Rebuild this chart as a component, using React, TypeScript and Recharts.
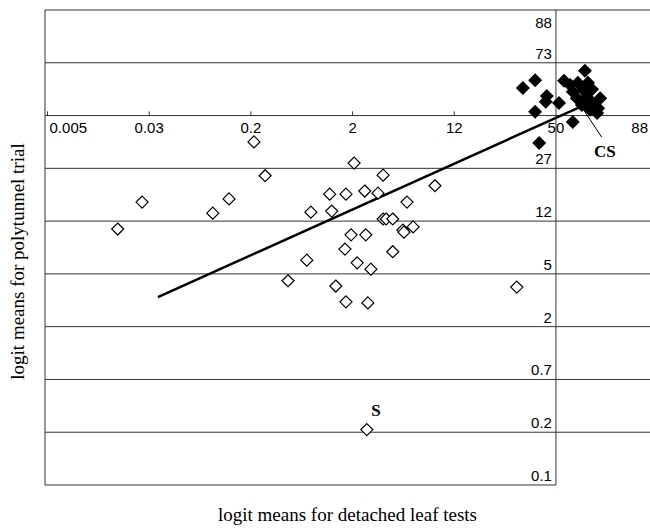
import React from "react";
import {
  ScatterChart,
  Scatter,
  XAxis,
  YAxis,
  ReferenceLine,
  ReferenceDot,
} from "recharts";

// logit scale, both axes
const X_MIN = -10.05;
const X_MAX = 1.85;
const Y_MIN = -7;
const Y_MAX = 2;

const xTickValues = [-10, -8, -6, -4, -2, 0, 2];
const xTickLabels = ["0.005", "0.03", "0.2", "2", "12", "50", "88"];

const yTickValues = [2, 1, -1, -2, -3, -4, -5, -6, -7];
const yTickLabels = ["88", "73", "27", "12", "5", "2", "0.7", "0.2", "0.1"];

const gridValues = [1, 0, -1, -2, -3, -4, -5, -6];

// open diamonds (detached leaf vs polytunnel)
const openPoints = [
  { x: -8.62, y: -2.15 },
  { x: -8.14, y: -1.64 },
  { x: -6.75, y: -1.85 },
  { x: -6.43, y: -1.58 },
  { x: -5.94, y: -0.5 },
  { x: -5.72, y: -1.14 },
  { x: -5.27, y: -3.13 },
  { x: -4.9, y: -2.74 },
  { x: -4.82, y: -1.83 },
  { x: -4.45, y: -1.49 },
  { x: -4.41, y: -1.81 },
  { x: -4.33, y: -3.23 },
  { x: -4.13, y: -1.49 },
  { x: -4.13, y: -3.53 },
  { x: -4.03, y: -2.26 },
  { x: -3.97, y: -0.9 },
  { x: -3.91, y: -2.79 },
  { x: -4.15, y: -2.53 },
  { x: -3.76, y: -1.43 },
  { x: -3.74, y: -2.26 },
  { x: -3.7, y: -3.55 },
  { x: -3.64, y: -2.91 },
  { x: -3.5, y: -1.47 },
  { x: -3.4, y: -1.13 },
  { x: -3.4, y: -1.96 },
  { x: -3.34, y: -1.96 },
  { x: -3.21, y: -1.96 },
  { x: -3.21, y: -2.58 },
  { x: -3.01, y: -2.17 },
  { x: -2.99, y: -2.21 },
  { x: -2.93, y: -1.64 },
  { x: -2.81, y: -2.11 },
  { x: -2.38, y: -1.33 },
  { x: -0.77, y: -3.25 },
];

const susceptible = [{ x: -3.72, y: -5.95 }];

// filled diamonds
const filledPoints = [
  { x: -0.65, y: 0.52 },
  { x: -0.41, y: 0.67 },
  { x: -0.18, y: 0.37 },
  { x: -0.2, y: 0.26 },
  { x: 0.06, y: 0.24 },
  { x: -0.41, y: 0.07 },
  { x: -0.33, y: -0.52 },
  { x: 0.57, y: 0.85 },
  { x: 0.16, y: 0.66 },
  { x: 0.33, y: -0.12 },
  { x: 0.81, y: 0.05 },
  { x: 0.87, y: 0.33 },
  { x: 0.28, y: 0.58 },
  { x: 0.43, y: 0.62 },
  { x: 0.63, y: 0.62 },
  { x: 0.33, y: 0.45 },
  { x: 0.53, y: 0.49 },
  { x: 0.71, y: 0.5 },
  { x: 0.41, y: 0.33 },
  { x: 0.61, y: 0.35 },
  { x: 0.71, y: 0.24 },
  { x: 0.51, y: 0.2 },
  { x: 0.83, y: 0.14 },
  { x: 0.67, y: 0.11 },
];

const trendLine = [
  { x: -7.83, y: -3.44 },
  { x: 0.47, y: 0.16 },
];

const csPointer = [
  { x: 0.51, y: 0.16 },
  { x: 0.9, y: -0.41 },
];

const SANS = "'Liberation Sans', Arial, sans-serif";
const SERIF = "'Liberation Serif', 'Times New Roman', serif";
const LINE = "#333";

function OpenDiamond(props: any) {
  const { cx, cy } = props;
  const h = 6;
  return (
    <polygon
      points={`${cx},${cy - h} ${cx + h},${cy} ${cx},${cy + h} ${cx - h},${cy}`}
      fill="#fff"
      stroke="#000"
      strokeWidth={1.2}
    />
  );
}

function FilledDiamond(props: any) {
  const { cx, cy } = props;
  const h = 7;
  return (
    <polygon
      points={`${cx},${cy - h} ${cx + h},${cy} ${cx},${cy + h} ${cx - h},${cy}`}
      fill="#000"
    />
  );
}

function TickText(props: any) {
  const { viewBox, text, anchor = "middle", dx = 0, dy = 0 } = props;
  return (
    <text
      x={viewBox.x + dx}
      y={viewBox.y + dy}
      textAnchor={anchor}
      fontFamily={SANS}
      fontSize={15}
      fill="#000"
    >
      {text}
    </text>
  );
}

function Note(props: any) {
  const { viewBox, text } = props;
  return (
    <text
      x={viewBox.x}
      y={viewBox.y}
      textAnchor="middle"
      fontFamily={SERIF}
      fontWeight="bold"
      fontSize={17}
      fill="#000"
    >
      {text}
    </text>
  );
}

function YTitle(props: any) {
  const { viewBox } = props;
  const x = viewBox.x + 17;
  const y = viewBox.y + viewBox.height / 2 + 14;
  return (
    <text
      x={x}
      y={y}
      transform={`rotate(-90, ${x}, ${y})`}
      textAnchor="middle"
      dominantBaseline="central"
      fontFamily={SERIF}
      fontSize={19}
      fill="#000"
    >
      logit means for polytunnel trial
    </text>
  );
}

export default function App() {
  return (
    <div style={{ position: "absolute", left: 0, top: 0, background: "#fff" }}>
      <ScatterChart
        width={650}
        height={529}
        margin={{ top: 10, right: 0, bottom: 0, left: 0 }}
      >
        <XAxis
          type="number"
          dataKey="x"
          domain={[X_MIN, X_MAX]}
          allowDataOverflow
          height={44}
          tick={false}
          tickLine={false}
          axisLine={false}
          label={{
            value: "logit means for detached leaf tests",
            position: "insideBottom",
            offset: 8,
            fontFamily: SERIF,
            fontSize: 19,
            fill: "#000",
          }}
        />
        <YAxis
          type="number"
          dataKey="y"
          domain={[Y_MIN, Y_MAX]}
          allowDataOverflow
          width={45}
          tick={false}
          tickLine={false}
          axisLine={false}
          label={<YTitle />}
        />

        {/* frame and grid */}
        <ReferenceLine y={Y_MAX} stroke={LINE} strokeWidth={1} />
        {gridValues.map((v) => (
          <ReferenceLine key={`g${v}`} y={v} stroke={LINE} strokeWidth={1} />
        ))}
        <ReferenceLine
          segment={[
            { x: X_MIN, y: Y_MIN },
            { x: 0, y: Y_MIN },
          ]}
          stroke={LINE}
          strokeWidth={1}
        />
        <ReferenceLine x={X_MIN} stroke={LINE} strokeWidth={1} />
        <ReferenceLine x={0} stroke={LINE} strokeWidth={1} />
        {xTickValues
          .filter((v) => v > X_MIN && v < 0)
          .map((v) => (
            <ReferenceLine
              key={`t${v}`}
              segment={[
                { x: v, y: 0 },
                { x: v, y: 0.08 },
              ]}
              stroke={LINE}
              strokeWidth={1}
            />
          ))}

        {/* axis labels at the crossing */}
        {xTickValues.map((v, i) => {
          const last = i === xTickValues.length - 1;
          const first = i === 0;
          return (
            <ReferenceDot
              key={`xl${v}`}
              x={Math.min(Math.max(v, X_MIN), X_MAX)}
              y={0}
              r={0}
              fill="none"
              stroke="none"
              label={
                <TickText
                  text={xTickLabels[i]}
                  anchor={first ? "start" : last ? "end" : "middle"}
                  dx={first ? 2 : last ? -2 : 0}
                  dy={17.5}
                />
              }
            />
          );
        })}
        {yTickValues.map((v, i) => (
          <ReferenceDot
            key={`yl${v}`}
            x={0}
            y={v}
            r={0}
            fill="none"
            stroke="none"
            label={
              <TickText
                text={yTickLabels[i]}
                anchor="end"
                dx={-4}
                dy={v === Y_MAX ? 18 : -4}
              />
            }
          />
        ))}

        <Scatter
          data={trendLine}
          line={{ stroke: "#000", strokeWidth: 2.5 }}
          shape={() => null}
          isAnimationActive={false}
        />
        <Scatter
          data={openPoints}
          shape={<OpenDiamond />}
          isAnimationActive={false}
        />
        <Scatter
          data={susceptible}
          shape={<OpenDiamond />}
          isAnimationActive={false}
        />
        <Scatter
          data={filledPoints}
          shape={<FilledDiamond />}
          isAnimationActive={false}
        />

        <ReferenceLine segment={csPointer} stroke="#000" strokeWidth={1} />
        <ReferenceDot
          x={0.96}
          y={-0.78}
          r={0}
          fill="none"
          stroke="none"
          label={<Note text="CS" />}
        />
        <ReferenceDot
          x={-3.54}
          y={-5.7}
          r={0}
          fill="none"
          stroke="none"
          label={<Note text="S" />}
        />
      </ScatterChart>
    </div>
  );
}
